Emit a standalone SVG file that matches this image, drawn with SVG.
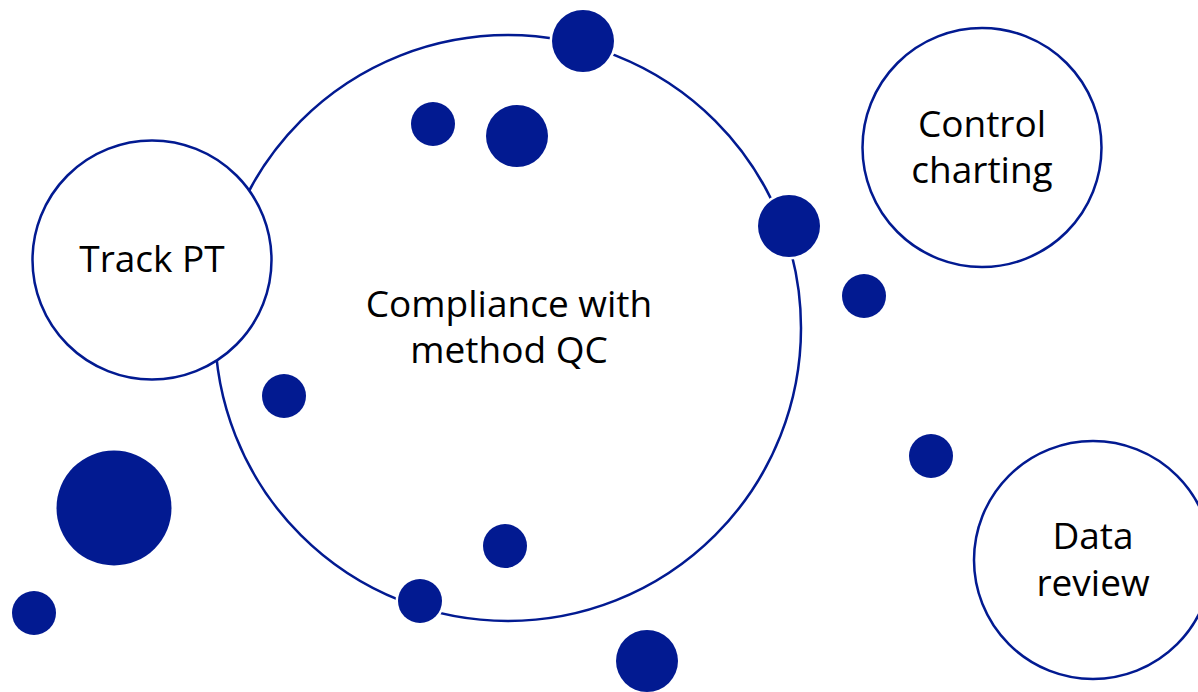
<svg xmlns="http://www.w3.org/2000/svg" width="1198" height="692" viewBox="0 0 1198 692">
  <style>
    .ring { fill: #ffffff; stroke: #021A91; stroke-width: 2.5; }
    .dot { fill: #021A91; stroke: #ffffff; stroke-width: 5; paint-order: stroke; }
    .label { font-family: "Open Sans", "Noto Sans", "Liberation Sans", sans-serif; font-size: 37px; fill: #000000; text-anchor: middle; }
  </style>
  <rect width="1198" height="692" fill="#ffffff"/>
  <g id="compliance-with-method-qc">
    <circle class="ring" cx="508" cy="328" r="293"/>
    <text class="label" x="509" y="317">Compliance with</text>
    <text class="label" x="509" y="363">method QC</text>
  </g>
  <g id="track-pt">
    <circle class="ring" cx="152" cy="260" r="119.5"/>
    <text class="label" x="152" y="272">Track PT</text>
  </g>
  <g id="control-charting">
    <circle class="ring" cx="982" cy="147.5" r="119.5"/>
    <text class="label" x="982" y="137">Control</text>
    <text class="label" x="982" y="183">charting</text>
  </g>
  <g id="data-review">
    <circle class="ring" cx="1093" cy="560" r="119"/>
    <text class="label" x="1093" y="549">Data</text>
    <text class="label" x="1093" y="596">review</text>
  </g>
  <g id="dots">
    <circle class="dot" cx="583" cy="41" r="31"/>
    <circle class="dot" cx="433" cy="124" r="22"/>
    <circle class="dot" cx="517" cy="136" r="31"/>
    <circle class="dot" cx="789" cy="226" r="31"/>
    <circle class="dot" cx="864" cy="296" r="22"/>
    <circle class="dot" cx="284" cy="396" r="22"/>
    <circle class="dot" cx="931" cy="456" r="22"/>
    <circle class="dot" cx="114" cy="508" r="57.5"/>
    <circle class="dot" cx="505" cy="546" r="22"/>
    <circle class="dot" cx="420" cy="601" r="22"/>
    <circle class="dot" cx="34" cy="613" r="22"/>
    <circle class="dot" cx="647" cy="661" r="31"/>
  </g>
</svg>
